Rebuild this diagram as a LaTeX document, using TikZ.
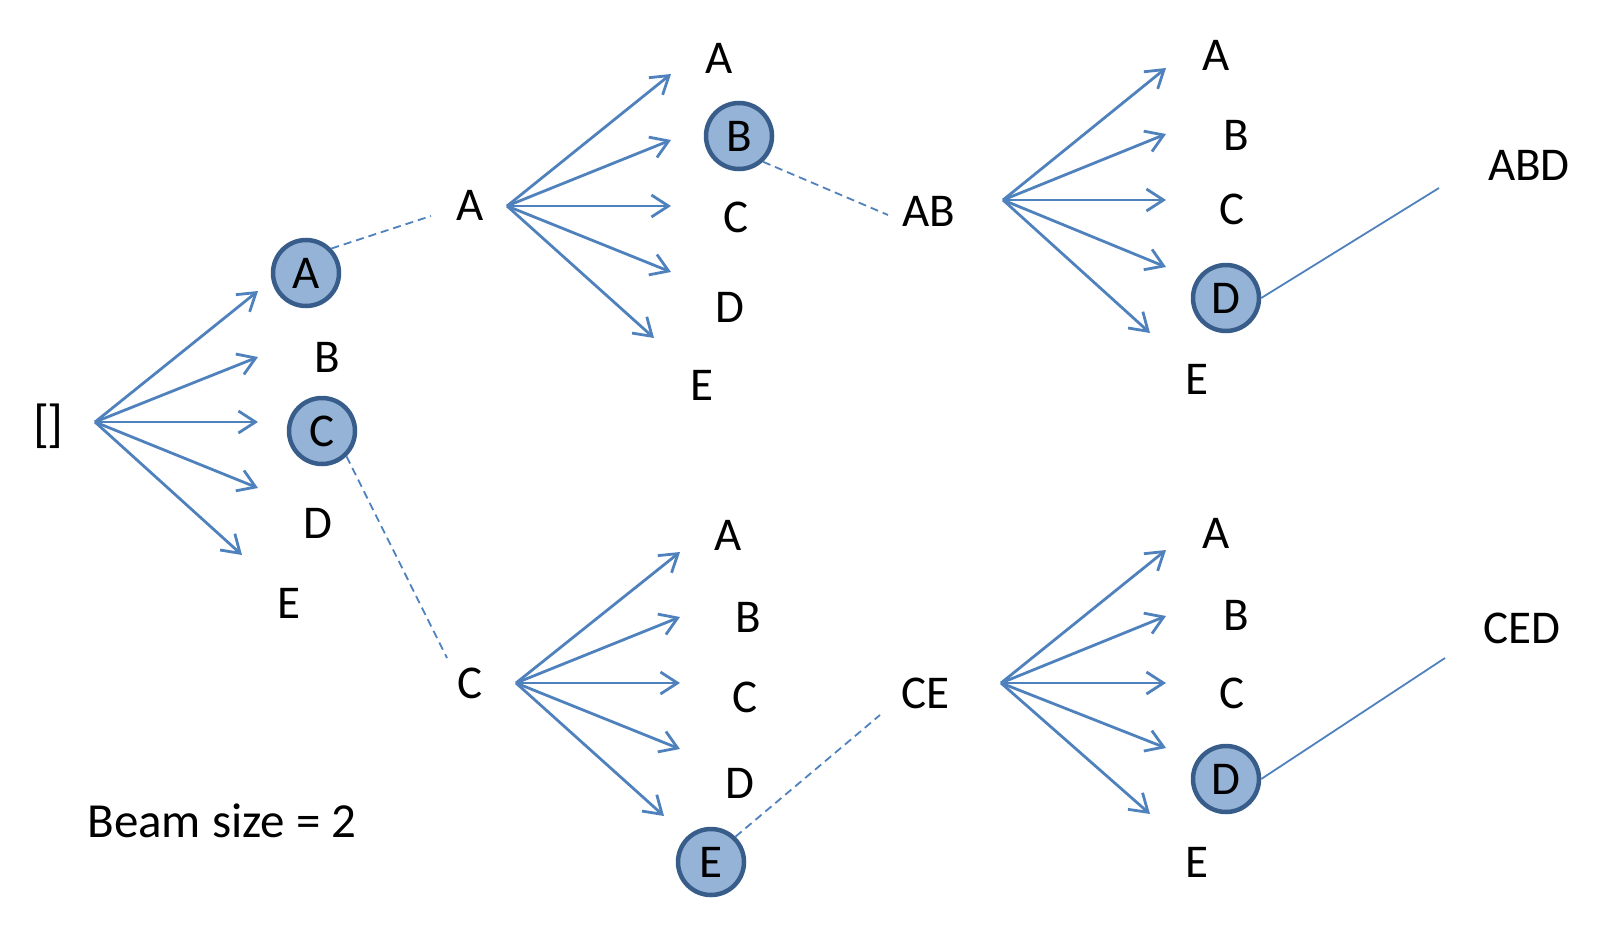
\documentclass[tikz,border=0pt]{standalone}
\usepackage{fontspec}
\setmainfont{Carlito}
\usetikzlibrary{arrows.meta}
\definecolor{arrowblue}{HTML}{4F81BD}
\definecolor{circfill}{HTML}{95B3D7}
\definecolor{circline}{HTML}{385D8A}
\tikzset{
  lbl/.style={inner sep=0pt, font=\fontsize{47}{56}\selectfont},
  sel/.style={circle, draw=circline, fill=circfill, line width=4.5pt, minimum size=66pt, inner sep=0pt, font=\fontsize{47}{56}\selectfont},
  fanarrow/.style={draw=arrowblue, line width=2.8pt, -{Straight Barb[length=17pt,width=22pt,line width=2.8pt]}},
  beamlink/.style={draw=arrowblue, line width=1.8pt, dash pattern=on 8pt off 5pt},
  finallink/.style={draw=arrowblue, line width=1.8pt}
}
\begin{document}
\begin{tikzpicture}[x=1pt,y=-1pt]
\useasboundingbox (0,0) rectangle (1598,934);

% ---------- level 0 ----------
\node[lbl, font=\fontsize{52}{60}\selectfont] (root) at (48,426) {[\kern-2pt]};
\coordinate (o0) at (95,422);
\coordinate (t0a) at (258,291);
\coordinate (t0b) at (258,357);
\coordinate (t0c) at (258,422);
\coordinate (t0d) at (258,488);
\coordinate (t0e) at (242,555);
\foreach \t in {t0a,t0b,t0c,t0d,t0e} \draw[fanarrow] (o0) -- (\t);

\node[sel] (l1A) at (306,273) {A};
\node[lbl] (l1B) at (327,357) {B};
\node[sel] (l1C) at (322,431) {C};
\node[lbl] (l1D) at (318,523) {D};
\node[lbl] (l1E) at (289,603) {E};

% ---------- level 2 top ----------
\node[lbl] (pA) at (470,205) {A};
\coordinate (o1) at (507,206);
\coordinate (t1a) at (671,74);
\coordinate (t1b) at (671,140);
\coordinate (t1c) at (671,206);
\coordinate (t1d) at (671,272);
\coordinate (t1e) at (654,338);
\foreach \t in {t1a,t1b,t1c,t1d,t1e} \draw[fanarrow] (o1) -- (\t);
\node[lbl] (aA) at (719,58) {A};
\node[sel] (aB) at (739,136) {B};
\node[lbl] (aC) at (736,217) {C};
\node[lbl] (aD) at (730,307) {D};
\node[lbl] (aE) at (702,385) {E};

\coordinate (dA) at (431,216);
\draw[beamlink] (l1A.44) -- (dA);

% ---------- level 3 top ----------
\node[lbl] (pAB) at (929,211) {AB};
\coordinate (o2) at (1003,200);
\coordinate (t2a) at (1166,68);
\coordinate (t2b) at (1166,134);
\coordinate (t2c) at (1166,200);
\coordinate (t2d) at (1166,267);
\coordinate (t2e) at (1150,333);
\foreach \t in {t2a,t2b,t2c,t2d,t2e} \draw[fanarrow] (o2) -- (\t);
\node[lbl] (abA) at (1216,55) {A};
\node[lbl] (abB) at (1236,135) {B};
\node[lbl] (abC) at (1232,209) {C};
\node[sel] (abD) at (1226,298) {D};
\node[lbl] (abE) at (1197,379) {E};

\coordinate (dAB) at (888,215);
\draw[beamlink] (aB.-47) -- (dAB);

\coordinate (fABD) at (1439,188);
\draw[finallink] (abD.east) -- (fABD);
\node[lbl] (ABD) at (1529,165) {ABD};

% ---------- level 2 bottom ----------
\node[lbl] (pC) at (470,683) {C};
\coordinate (o3) at (516,683);
\coordinate (t3a) at (680,552);
\coordinate (t3b) at (680,617);
\coordinate (t3c) at (680,683);
\coordinate (t3d) at (680,749);
\coordinate (t3e) at (664,816);
\foreach \t in {t3a,t3b,t3c,t3d,t3e} \draw[fanarrow] (o3) -- (\t);
\node[lbl] (cA) at (728,535) {A};
\node[lbl] (cB) at (748,617) {B};
\node[lbl] (cC) at (745,697) {C};
\node[lbl] (cD) at (740,783) {D};
\node[sel] (cE) at (711,862) {E};

\coordinate (dC) at (447,658);
\draw[beamlink] (l1C.-46) -- (dC);

% ---------- level 3 bottom ----------
\node[lbl] (pCE) at (925,693) {CE};
\coordinate (o4) at (1001,683);
\coordinate (t4a) at (1166,550);
\coordinate (t4b) at (1166,616);
\coordinate (t4c) at (1166,683);
\coordinate (t4d) at (1166,748);
\coordinate (t4e) at (1150,814);
\foreach \t in {t4a,t4b,t4c,t4d,t4e} \draw[fanarrow] (o4) -- (\t);
\node[lbl] (ceA) at (1216,533) {A};
\node[lbl] (ceB) at (1236,615) {B};
\node[lbl] (ceC) at (1232,693) {C};
\node[sel] (ceD) at (1226,779) {D};
\node[lbl] (ceE) at (1197,862) {E};

\coordinate (dCE) at (880,715);
\draw[beamlink] (cE.46) -- (dCE);

\coordinate (fCED) at (1445,658);
\draw[finallink] (ceD.east) -- (fCED);
\node[lbl] (CED) at (1522,628) {CED};

% ---------- caption ----------
\node[inner sep=0pt, font=\fontsize{49}{58}\selectfont] (beam) at (222,821) {Beam size = 2};
\end{tikzpicture}
\end{document}
